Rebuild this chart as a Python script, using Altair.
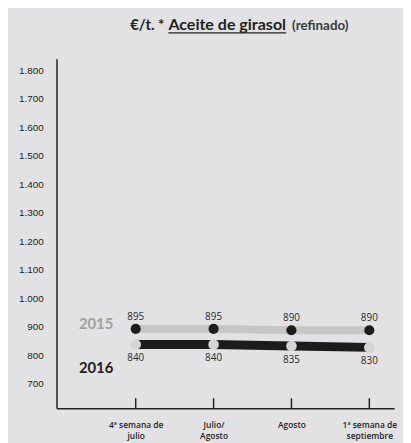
import json
import altair as alt
import pandas as pd

# ---- data ----
categories = ["4ª semana de\njulio", "Julio/\nAgosto", "Agosto", "1ª semana de\nseptiembre"]
positions = [0, 1, 2, 3]
values_2015 = [895, 895, 890, 890]
values_2016 = [840, 840, 835, 830]
series_names = ["2015", "2016"]
y_ticks = [700, 800, 900, 1000, 1100, 1200, 1300, 1400, 1500, 1600, 1700, 1800]
title_parts = ["€/t. *", "Aceite de girasol", "(refinado)"]

W, H = 341, 353
BG = "#e2e2e4"
LIGHT = "#c6c6c6"
DARK = "#1c1c1c"

df15 = pd.DataFrame({"idx": positions, "value": values_2015, "series": series_names[0]})
df16 = pd.DataFrame({"idx": positions, "value": values_2016, "series": series_names[1]})
dfy = pd.DataFrame({"value": y_ticks})

label_expr = "split(" + json.dumps(categories, ensure_ascii=False) + "[datum.value], '\\n')"

xs = alt.Scale(domain=[-1.017, 3.318], nice=False, zero=False)
ys = alt.Scale(domain=[617, 1842], nice=False, zero=False)

x_axis = alt.Axis(values=positions, labelExpr=label_expr, title=None, grid=False,
                  ticks=False, tickSize=0, labelPadding=17, labelBaseline="middle",
                  labelFont="Open Sans", labelFontSize=8.5, labelFontWeight=600,
                  labelColor="#222", labelLineHeight=11, domainColor="#222",
                  domainWidth=1.5, labelOverlap=False)
y_axis = alt.Axis(values=y_ticks, labels=False, title=None, grid=False, ticks=False,
                  tickSize=0, domainColor="#222", domainWidth=1.5)

X = alt.X("idx:Q", scale=xs, axis=x_axis)
Y = alt.Y("value:Q", scale=ys, axis=y_axis)
Xn = alt.X("idx:Q", scale=xs)
Yn = alt.Y("value:Q", scale=ys)

base15 = alt.Chart(df15)
base16 = alt.Chart(df16)

ticks = base15.mark_rule(color="#222", strokeWidth=1.5).encode(
    x=X, y=alt.value(H - 10), y2=alt.value(H))

ylabels = alt.Chart(dfy).transform_calculate(
    lbl="replace(format(datum.value, ','), ',', '.')"
).mark_text(font="Liberation Sans", fontSize=10, color="#222", align="right",
            baseline="middle").encode(x=alt.value(-13), y=Yn, text="lbl:N")

line15 = base15.mark_line(color=LIGHT, strokeWidth=8, strokeCap="butt").encode(x=Xn, y=Y)
pts15 = base15.mark_point(filled=True, color=DARK, size=105, opacity=1).encode(x=Xn, y=Yn)
lab15 = base15.mark_text(font="Open Sans", fontSize=10, color="#2a2a2a", dy=-12,
                         baseline="middle").encode(x=Xn, y=Yn, text="value:Q")

line16 = base16.mark_line(color=DARK, strokeWidth=9, strokeCap="butt").encode(x=Xn, y=Yn)
pts16 = base16.mark_point(filled=True, color="#d4d4d4", size=115, opacity=1).encode(x=Xn, y=Yn)
lab16 = base16.mark_text(font="Open Sans", fontSize=10, color="#2a2a2a", dy=14,
                         baseline="middle").encode(x=Xn, y=Yn, text="value:Q")

first15 = pd.DataFrame({"idx": [positions[0]], "value": [values_2015[0]], "series": [series_names[0]]})
first16 = pd.DataFrame({"idx": [positions[0]], "value": [values_2016[0]], "series": [series_names[1]]})
name15 = alt.Chart(first15).mark_text(font="Lato", fontWeight="bold", fontSize=15,
                                      color="#a0a0a0", dx=-40, dy=-5,
                                      baseline="middle").encode(x=Xn, y=Yn, text="series:N")
name16 = alt.Chart(first16).mark_text(font="Lato", fontWeight="bold", fontSize=15,
                                      color=DARK, dx=-40, dy=24,
                                      baseline="middle").encode(x=Xn, y=Yn, text="series:N")

tdf = pd.DataFrame({"t": title_parts})
t1 = alt.Chart(tdf.iloc[[0]]).mark_text(font="Lato", fontWeight="bold", fontSize=15, color="#222",
                                        align="right", baseline="alphabetic").encode(
    x=alt.value(109), y=alt.value(-29), text="t:N")
t2 = alt.Chart(tdf.iloc[[1]]).mark_text(font="Lato", fontWeight="bold", fontSize=16.2, color="#222",
                                        align="left", baseline="alphabetic").encode(
    x=alt.value(113), y=alt.value(-29), text="t:N")
t3 = alt.Chart(tdf.iloc[[2]]).mark_text(font="Lato", fontWeight="bold", fontSize=13.5, color="#3a3a3a",
                                        align="left", baseline="alphabetic").encode(
    x=alt.value(238), y=alt.value(-29), text="t:N")
underline = alt.Chart(tdf.iloc[[1]]).mark_rule(color="#222", strokeWidth=1.3).encode(
    x=alt.value(113), x2=alt.value(232), y=alt.value(-26))

chart = alt.layer(
    ticks, ylabels, line15, pts15, lab15, line16, pts16, lab16, name15, name16,
    t1, t2, t3, underline
).properties(
    width=W, height=H,
    padding={"left": 49, "top": 49, "right": 9, "bottom": 33},
    autosize=alt.AutoSizeParams(type="none"),
    background=BG,
).configure_view(stroke=None)

chart.save("out.html", embed_options={"renderer": "svg", "actions": False})
